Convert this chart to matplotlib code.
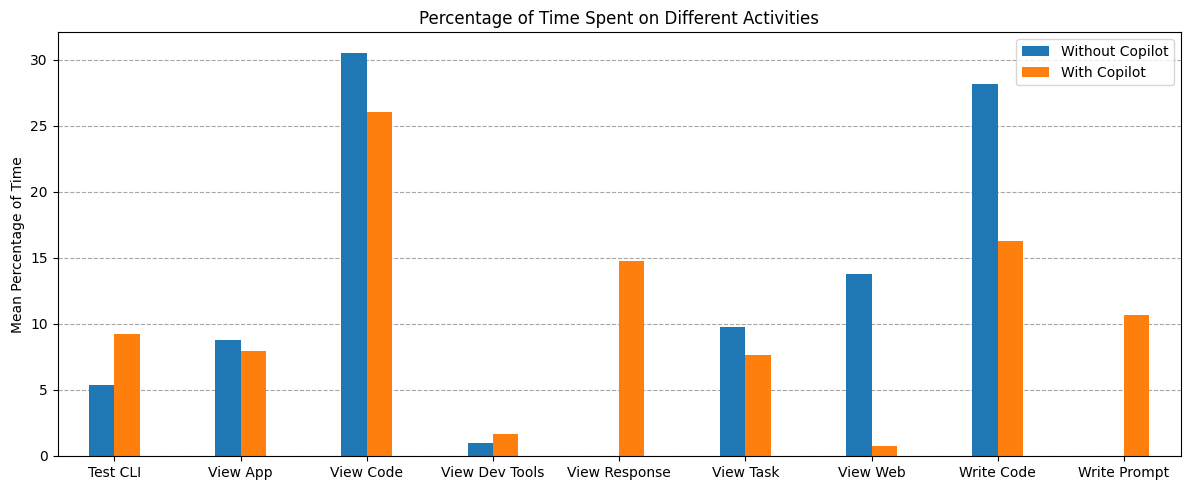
import matplotlib
matplotlib.use("Agg")
import matplotlib.pyplot as plt
import numpy as np

# values
activities = ["Test CLI", "View App", "View Code", "View Dev Tools", "View Response",
              "View Task", "View Web", "Write Code", "Write Prompt"]
without_copilot = [5.38, 8.79, 30.55, 0.99, 0.0, 9.78, 13.8, 28.13, 0.0]
with_copilot = [9.25, 7.96, 26.08, 1.67, 14.78, 7.66, 0.76, 16.3, 10.69]

x = np.arange(len(activities))
width = 0.2

fig, ax = plt.subplots(figsize=(11.89, 4.9), dpi=100)
ax.bar(x - width / 2, without_copilot, width, label="Without Copilot", color="#1f77b4")
ax.bar(x + width / 2, with_copilot, width, label="With Copilot", color="#ff7f0e")

ax.set_xticks(x)
ax.set_xticklabels(activities)
ax.set_xlim(-0.45, len(activities) - 1 + 0.45)
ax.set_ylabel("Mean Percentage of Time")
ax.set_title("Percentage of Time Spent on Different Activities")
ax.legend(loc="upper right")
ax.set_axisbelow(True)
ax.grid(axis="y", linestyle="--", color="gray", alpha=0.7)

fig.subplots_adjust(left=0.0484, right=0.993, top=0.934, bottom=0.0694)
plt.savefig("out.png", dpi=100)
